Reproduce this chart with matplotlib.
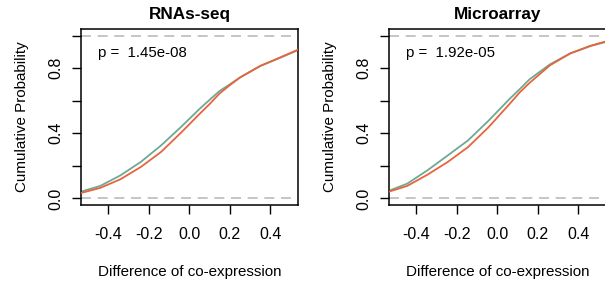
import matplotlib
matplotlib.use("Agg")
import matplotlib.pyplot as plt

plt.rcParams["font.family"] = ["Liberation Sans", "DejaVu Sans"]

titles = ["RNAs-seq", "Microarray"]
p_labels = ["p =  1.45e-08", "p =  1.92e-05"]

# values
rna_x = [-0.54, -0.44, -0.34, -0.24, -0.14, -0.04, 0.05, 0.10, 0.15, 0.20, 0.25, 0.35, 0.45, 0.54]
rna_green = [0.040, 0.077, 0.142, 0.224, 0.325, 0.44, 0.549, 0.605, 0.66, 0.70, 0.742, 0.813, 0.864, 0.912]
rna_red = [0.032, 0.065, 0.118, 0.193, 0.285, 0.405, 0.518, 0.579, 0.645, 0.695, 0.742, 0.813, 0.866, 0.915]

micro_x = [-0.54, -0.445, -0.345, -0.245, -0.145, -0.045, 0.06, 0.11, 0.16, 0.26, 0.36, 0.46, 0.54]
micro_green = [0.045, 0.091, 0.173, 0.264, 0.356, 0.475, 0.61, 0.67, 0.732, 0.823, 0.89, 0.935, 0.962]
micro_red = [0.040, 0.077, 0.146, 0.224, 0.315, 0.435, 0.579, 0.65, 0.71, 0.817, 0.89, 0.937, 0.965]

x_ticks = [-0.4, -0.2, 0.0, 0.2, 0.4]
y_ticks = [0.0, 0.2, 0.4, 0.6, 0.8, 1.0]
y_labels = ["0.0", "", "0.4", "", "0.8", ""]

RED = "#E8643C"
GREEN = "#6FA894"

fig = plt.figure(figsize=(6.05, 2.87), dpi=100)
W, H = 605, 287
panels = [
    (81, rna_x, rna_green, rna_red),
    (389, micro_x, micro_green, micro_red),
]

for i, (left, xs, green, red) in enumerate(panels):
    ax = fig.add_axes([left / W, (H - 205) / H, 217 / W, 176 / H])
    ax.axhline(0, color="#BBBBBB", lw=1.2, ls=(0, (6, 4)), zorder=1)
    ax.axhline(1, color="#BBBBBB", lw=1.2, ls=(0, (6, 4)), zorder=1)
    ax.plot(xs, red, color=RED, lw=1.3, zorder=3)
    ax.plot(xs, green, color=GREEN, lw=1.3, zorder=2)
    ax.set_xlim(-0.535, 0.537)
    ax.set_ylim(-0.04, 1.04)
    ax.set_xticks(x_ticks)
    ax.set_xticklabels([f"{v:.1f}" for v in x_ticks])
    ax.set_yticks(y_ticks)
    ax.set_yticklabels(y_labels, rotation=90, va="center")
    ax.tick_params(axis="both", direction="out", length=6.5, width=1.0,
                   labelsize=11.5, colors="black")
    ax.tick_params(axis="x", pad=9)
    ax.tick_params(axis="y", pad=6)
    for s in ax.spines.values():
        s.set_linewidth(1.1)
    ax.text(-0.45, 0.895, p_labels[i], fontsize=10.8, va="center", ha="left")
    ax.set_title(titles[i], fontsize=12.3, fontweight="bold", pad=7)
    ax.set_xlabel("Difference of co-expression", fontsize=10.9, labelpad=17)
    ax.set_ylabel("Cumulative Probability", fontsize=10.9, labelpad=14)

fig.savefig("out.png", dpi=100)
